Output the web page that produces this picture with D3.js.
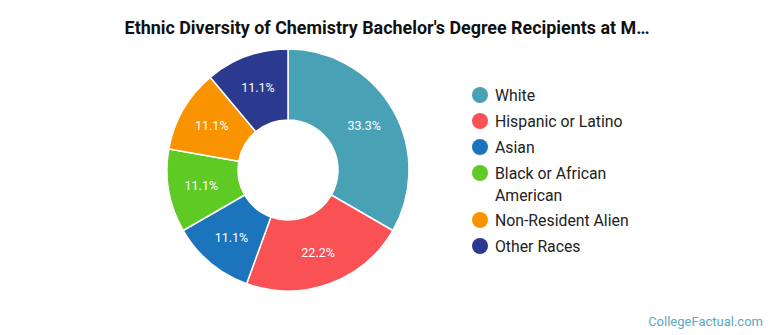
<!DOCTYPE html>
<html>
<head>
<meta charset="utf-8">
<script src="https://cdn.jsdelivr.net/npm/d3@7/dist/d3.min.js"></script>
<style>
  html, body { margin: 0; padding: 0; background: #fff; }
  svg { display: block; font-family: Roboto, "Open Sans", sans-serif; }
</style>
</head>
<body>
<svg id="chart" width="770" height="335"></svg>
<script>
// Share of chemistry bachelor's degree recipients by ethnicity (%)
const categories = ["White", "Hispanic or Latino", "Asian", "Black or African American", "Non-Resident Alien", "Other Races"];
const legendLines = [["White"], ["Hispanic or Latino"], ["Asian"], ["Black or African", "American"], ["Non-Resident Alien"], ["Other Races"]];
const shares = [33.3, 22.2, 11.1, 11.1, 11.1, 11.1];
const colors = ["#48a1b4", "#fa5155", "#1c74bd", "#60ca24", "#fa9300", "#2b3a8e"];

const svg = d3.select("#chart");

svg.append("text")
  .attr("x", 387).attr("y", 34)
  .attr("text-anchor", "middle")
  .attr("font-size", 17.9).attr("font-weight", 700)
  .attr("fill", "#111")
  .text("Ethnic Diversity of Chemistry Bachelor's Degree Recipients at M\u2026");

const cx = 288, cy = 170, rOuter = 121, rInner = 50;
const color = d3.scaleOrdinal().domain(categories).range(colors);

const pie = d3.pie().sort(null).value(d => d.v);
const arcs = pie(categories.map((c, i) => ({ c, v: shares[i] })));
const arc = d3.arc().innerRadius(rInner).outerRadius(rOuter);
const labelArc = d3.arc().innerRadius(88).outerRadius(88);

const g = svg.append("g").attr("transform", `translate(${cx},${cy})`);
g.selectAll("path").data(arcs).join("path")
  .attr("d", arc)
  .attr("fill", d => color(d.data.c))
  .attr("stroke", "#fff").attr("stroke-width", 1.5);

g.selectAll("text").data(arcs).join("text")
  .attr("transform", d => `translate(${labelArc.centroid(d)})`)
  .attr("text-anchor", "middle").attr("dy", "0.35em")
  .attr("font-size", 12.5).attr("fill", "#fff")
  .text(d => d3.format(".1f")(d.data.v) + "%");

// Legend
const legendY = [95, 121, 147, 173, 220, 246];
const lg = svg.append("g");
categories.forEach((c, i) => {
  const row = lg.append("g").attr("transform", `translate(480,${legendY[i]})`);
  row.append("circle").attr("r", 8).attr("fill", color(c));
  const t = row.append("text").attr("x", 15).attr("y", 0)
    .attr("font-size", 15.8).attr("fill", "#222");
  legendLines[i].forEach((ln, j) => {
    t.append("tspan").attr("x", 15).attr("dy", j === 0 ? "0.35em" : "1.45em").text(ln);
  });
});

svg.append("text")
  .attr("x", 763).attr("y", 326)
  .attr("text-anchor", "end")
  .attr("font-size", 13).attr("fill", "#5aa9c1")
  .text("CollegeFactual.com");
</script>
</body>
</html>
